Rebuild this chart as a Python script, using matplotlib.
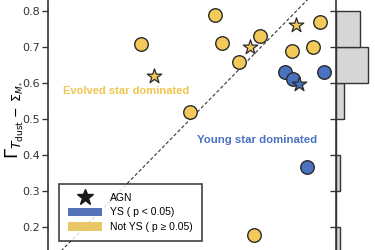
import numpy as np
import matplotlib
matplotlib.use("Agg")
import matplotlib.pyplot as plt
from matplotlib.lines import Line2D
from matplotlib.patches import Patch

# points
ys_x = [0.768, 0.790, 0.878, 0.830]
ys_y = [0.631, 0.611, 0.631, 0.367]
ys_agn_x = [0.807]
ys_agn_y = [0.597]

notys_x = [0.360, 0.499, 0.569, 0.589, 0.697, 0.637, 0.867, 0.788, 0.847, 0.680]
notys_y = [0.708, 0.519, 0.789, 0.711, 0.731, 0.658, 0.769, 0.689, 0.700, 0.178]
notys_agn_x = [0.397, 0.669, 0.799]
notys_agn_y = [0.619, 0.700, 0.761]

# marginal histogram (bins of 0.1)
hist_edges = [0.1, 0.2, 0.3, 0.4, 0.5, 0.6, 0.7, 0.8]
hist_counts = [1, 0, 1, 0, 2, 8, 6]

yticks = [0.2, 0.3, 0.4, 0.5, 0.6, 0.7, 0.8]

blue = "#4a72c0"
yellow = "#f3c95a"
edge = "#2a2a2a"

plt.rcParams['font.family'] = ['Liberation Sans', 'DejaVu Sans']

fig = plt.figure(figsize=(3.75, 2.5), dpi=100)
ax = fig.add_axes([48 / 375, 0.0, (335 - 48) / 375, 1.0])
axh = fig.add_axes([336 / 375, 0.0, 0.2, 1.0], sharey=ax)

ylim = (0.1361, 0.8306)
xlim = (0.0963, 0.9094)

ax.plot([0, 1], [0, 1], ls="--", color="#333333", lw=0.8, dashes=(3, 2), zorder=1)

ax.scatter(notys_x, notys_y, s=95, c=yellow, edgecolors=edge, linewidths=1.0, zorder=3)
ax.scatter(ys_x, ys_y, s=95, c=blue, edgecolors=edge, linewidths=1.0, zorder=3)
ax.scatter(notys_agn_x, notys_agn_y, s=120, marker="*", c=yellow, edgecolors=edge,
           linewidths=0.9, zorder=4)
ax.scatter(ys_agn_x, ys_agn_y, s=120, marker="*", c=blue, edgecolors=edge,
           linewidths=0.9, zorder=4)

ax.text(0.317, 0.578, "Evolved star dominated", color="#f0c550", fontsize=8,
        fontweight="bold", ha="center", va="center")
ax.text(0.688, 0.442, "Young star dominated", color=blue, fontsize=8.2,
        fontweight="bold", ha="center", va="center")

ax.set_xlim(xlim)
ax.set_ylim(ylim)
ax.set_yticks(yticks)
ax.set_yticklabels([f"{v:.1f}" for v in yticks], fontsize=8, color="#333333",
                   family="DejaVu Sans")
ax.set_xticks([])
for s in ["top", "bottom", "right"]:
    ax.spines[s].set_visible(False)
ax.spines["left"].set_color("#333333")
ax.spines["left"].set_linewidth(1.2)
ax.tick_params(axis="y", length=4, width=1, color="#333333", pad=1.5)

ax.set_ylabel(r"$\Gamma_{T_{\rm dust}\,-\,\Sigma_{M_*}}$", fontsize=13, family="DejaVu Sans")
ax.yaxis.set_label_coords(-0.085, 0.52)

handles = [
    Line2D([], [], marker="*", color="#1a1a1a", ls="none", markersize=12),
    Patch(facecolor="#5572b8", edgecolor="none"),
    Patch(facecolor="#e9c764", edgecolor="none"),
]
labels = ["AGN", "YS ( p < 0.05)", "Not YS ( p \u2265 0.05)"]
leg = ax.legend(handles, labels, loc="lower left", bbox_to_anchor=(59 / 375, 9 / 250),
                bbox_transform=fig.transFigure, fontsize=7.5, frameon=True,
                fancybox=False, handlelength=3.25, handleheight=0.9,
                borderpad=0.85, labelspacing=0.45, handletextpad=0.8, borderaxespad=0)
leg.get_frame().set_edgecolor("#111111")
leg.get_frame().set_linewidth(1.2)
leg.set_zorder(5)

# marginal histogram
widths = np.diff(hist_edges)
axh.barh(hist_edges[:-1], hist_counts, height=widths, align="edge",
         color="#d6d6d6", edgecolor="#333333", linewidth=1.0)
axh.set_xlim(0, 0.2 * 375 / 4)
axh.set_yticks(yticks + [0.1])
axh.tick_params(axis="y", labelleft=False, length=4, width=1, color="#333333")
axh.set_xticks([])
for s in ["top", "bottom", "right"]:
    axh.spines[s].set_visible(False)
axh.spines["left"].set_color("#333333")
axh.spines["left"].set_linewidth(1.2)
axh.set_ylim(ylim)

fig.savefig("out.png", dpi=100)
